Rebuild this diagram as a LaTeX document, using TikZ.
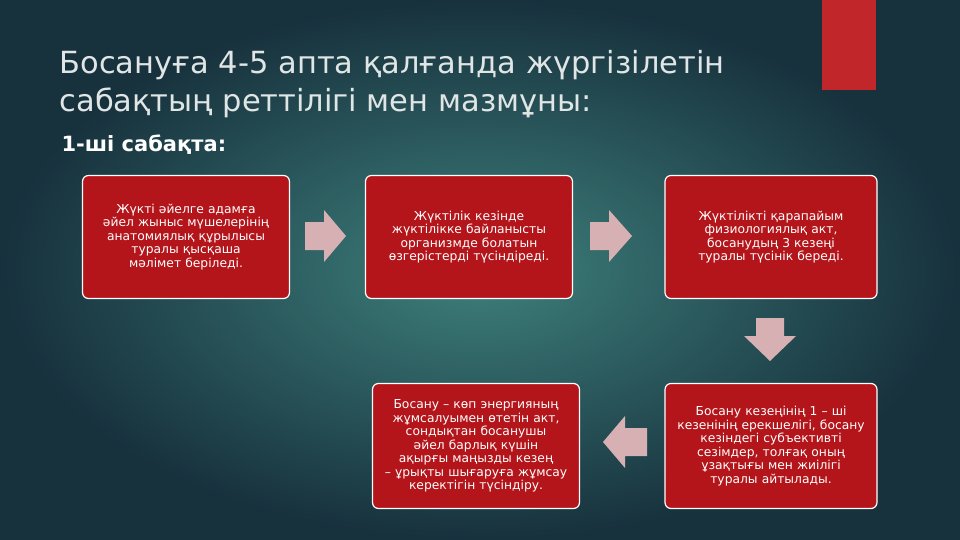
\documentclass[tikz,border=0pt]{standalone}
\usepackage{fontspec}
\setmainfont{DejaVu Sans}
\definecolor{bgc}{HTML}{3E807C}
\definecolor{bge}{HTML}{17313D}
\definecolor{boxred}{HTML}{B3151B}
\definecolor{arr}{HTML}{D6B0B2}
\definecolor{ttl}{HTML}{E0E6E6}
\definecolor{topred}{HTML}{C0262A}
\tikzset{
 box/.style={draw=white,line width=1.2pt,fill=boxred,rounded corners=6pt,minimum width=207pt,minimum height=123pt,text width=188pt,align=center,text=white,font=\fontsize{12.3}{13.5}\selectfont,inner sep=0pt},
 arrw/.style={fill=arr}
}
\begin{document}
\begin{tikzpicture}[x=1pt,y=-1pt]
\path[outer color=bge,inner color=bgc] (0,0) rectangle (960,540);
\useasboundingbox (0,0) rectangle (960,540);
\fill[topred] (822,0) rectangle (876,90);
\node[anchor=west,text=ttl,font=\fontsize{30.5}{38}\selectfont,align=left] (title) at (56,84) {Босануға 4-5 апта қалғанда жүргізілетін\\сабақтың реттілігі мен мазмұны:};
\node[anchor=west,text=white,font=\bfseries\fontsize{21}{24}\selectfont] (sub) at (58,145) {1-ші сабақта:};
\node[box] (b1) at (186,237) {Жүкті әйелге адамға әйел жыныс мүшелерінің анатомиялық құрылысы туралы қысқаша мәлімет беріледі.};
\node[box] (b2) at (469,237) {Жүктілік кезінде жүктілікке байланысты организмде болатын өзгерістерді түсіндіреді.};
\node[box,minimum width=212pt] (b3) at (771,237) {Жүктілікті қарапайым физиологиялық акт, босанудың 3 кезеңі туралы түсінік береді.};
\node[box,minimum height=125pt] (b4) at (476,446) {Босану – көп энергияның жұмсалуымен өтетін акт, сондықтан босанушы әйел барлық күшін ақырғы маңызды кезең – ұрықты шығаруға жұмсау керектігін түсіндіру.};
\node[box,minimum width=212pt,minimum height=125pt] (b5) at (771,446) {Босану кезеңінің 1 – ші кезенінің ерекшелігі, босану кезіндегі субъективті сезімдер, толғақ оның ұзақтығы мен жиілігі туралы айтылады.};
\fill[arrw] (305,222) -- (324,222) -- (324,210) -- (346,236) -- (324,262) -- (324,250) -- (305,250) -- cycle;
\fill[arrw] (590,222) -- (609,222) -- (609,210) -- (632,236) -- (609,262) -- (609,250) -- (590,250) -- cycle;
\fill[arrw] (756,318) -- (784,318) -- (784,336) -- (796,336) -- (770,361) -- (744,336) -- (756,336) -- cycle;
\fill[arrw] (647,428) -- (625,428) -- (625,416) -- (603,442) -- (625,468) -- (625,456) -- (647,456) -- cycle;
\end{tikzpicture}
\end{document}
